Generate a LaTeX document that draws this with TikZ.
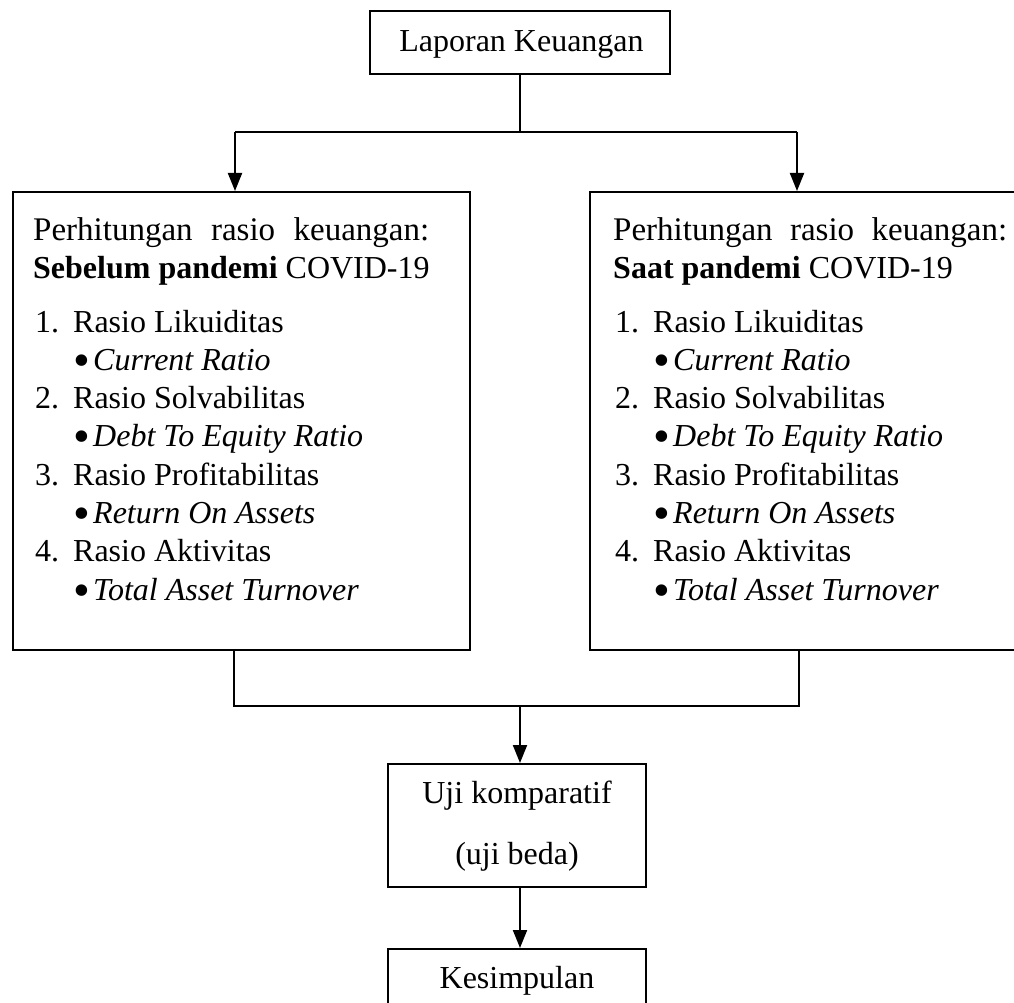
\documentclass[tikz,border=0pt]{standalone}
\usepackage{fontspec}
\setmainfont{Liberation Serif}
\usetikzlibrary{arrows.meta}
\newcommand{\bigbul}{\makebox[20pt][l]{\raisebox{-6pt}{\scalebox{1.5}{\textbullet}}}}
\begin{document}
\begin{tikzpicture}[x=1pt,y=-1pt,
  box/.style={draw, line width=2pt, line join=miter, inner sep=0pt, rectangle},
  conn/.style={line width=2pt},
  arr/.style={line width=2pt, -{Triangle[width=14pt,length=18pt]}},
  txt/.style={anchor=base west, inner sep=0pt, font=\fontsize{32}{38}\selectfont},
  wtxt/.style={anchor=base west, inner sep=0pt, font=\fontsize{33}{38}\selectfont},
  ctxt/.style={anchor=base, inner sep=0pt, font=\fontsize{32}{38}\selectfont}]
\useasboundingbox (0,0) rectangle (1014,1003);
\clip (0,0) rectangle (1014,1003);

% boxes
\node[box, minimum width=300pt, minimum height=63pt] (top) at (520,42.5) {};
\node[box, minimum width=457pt, minimum height=458pt] (left) at (241.5,421) {};
\node[box, minimum width=440pt, minimum height=458pt] (right) at (810,421) {};
\node[box, minimum width=258pt, minimum height=123pt] (uji) at (517,825.5) {};
\node[box, minimum width=258pt, minimum height=90pt] (kes) at (517,994) {};

% texts
\node[ctxt] (tTop) at (521.5,52) {Laporan Keuangan};

\node[wtxt] (lA) at (33,240) {\makebox[396pt][s]{Perhitungan rasio keuangan:}};
\node[txt] (lB) at (33,278) {\textbf{Sebelum pandemi} COVID-19};
\node[txt] (l1) at (35,332) {\makebox[38pt][l]{1.}Rasio Likuiditas};
\node[txt] (l1a) at (73,370.3) {\bigbul\textit{Current Ratio}};
\node[txt] (l2) at (35,408.6) {\makebox[38pt][l]{2.}Rasio Solvabilitas};
\node[txt] (l2a) at (73,446.9) {\bigbul\textit{Debt To Equity Ratio}};
\node[txt] (l3) at (35,485.2) {\makebox[38pt][l]{3.}Rasio Profitabilitas};
\node[txt] (l3a) at (73,523.5) {\bigbul\textit{Return On Assets}};
\node[txt] (l4) at (35,561.8) {\makebox[38pt][l]{4.}Rasio Aktivitas};
\node[txt] (l4a) at (73,600) {\bigbul\textit{Total Asset Turnover}};

\node[wtxt] (rA) at (613,240) {\makebox[394pt][s]{Perhitungan rasio keuangan:}};
\node[txt] (rB) at (613,278) {\textbf{Saat pandemi} COVID-19};
\node[txt] (r1) at (615,332) {\makebox[38pt][l]{1.}Rasio Likuiditas};
\node[txt] (r1a) at (653,370.3) {\bigbul\textit{Current Ratio}};
\node[txt] (r2) at (615,408.6) {\makebox[38pt][l]{2.}Rasio Solvabilitas};
\node[txt] (r2a) at (653,446.9) {\bigbul\textit{Debt To Equity Ratio}};
\node[txt] (r3) at (615,485.2) {\makebox[38pt][l]{3.}Rasio Profitabilitas};
\node[txt] (r3a) at (653,523.5) {\bigbul\textit{Return On Assets}};
\node[txt] (r4) at (615,561.8) {\makebox[38pt][l]{4.}Rasio Aktivitas};
\node[txt] (r4a) at (653,600) {\bigbul\textit{Total Asset Turnover}};

\node[ctxt] (u1) at (517,803) {Uji komparatif};
\node[ctxt] (u2) at (517,864) {(uji beda)};
\node[ctxt] (k1) at (517,988) {Kesimpulan};

% connectors
\coordinate (jl) at (235,132);
\coordinate (jr) at (797,132);
\coordinate (ml) at (234,706);
\coordinate (mr) at (799,706);
\coordinate (mm) at (520,706);

\draw[conn] (top.south) -- (top.south |- jl);
\draw[conn] (jl) -- (jr);
\draw[arr] (jl) -- (jl |- left.north);
\draw[arr] (jr) -- (jr |- right.north);

\draw[conn] (ml |- left.south) -- (ml) -- (mr) -- (mr |- right.south);
\draw[arr] (mm) -- (mm |- uji.north);
\draw[arr] (mm |- uji.south) -- (mm |- kes.north);
\end{tikzpicture}
\end{document}
